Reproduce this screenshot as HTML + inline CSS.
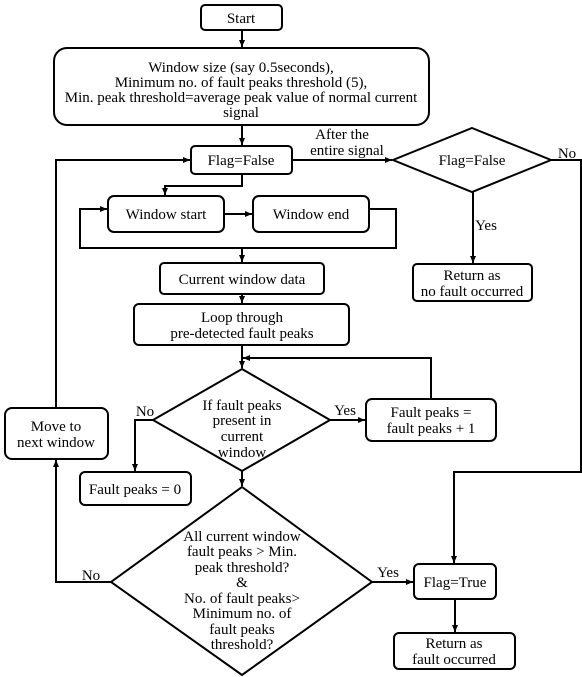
<!DOCTYPE html>
<html><head><meta charset="utf-8"><style>
html,body{margin:0;padding:0;background:#fff;}
svg{display:block;}
text{font-family:"Liberation Serif",serif;font-size:15px;fill:#000;text-anchor:middle;}
.b{fill:#fff;stroke:#000;stroke-width:2;}
.l{fill:none;stroke:#000;stroke-width:2;}
</style></head><body>
<svg width="582" height="677" viewBox="0 0 582 677">
<defs><marker id="a" markerWidth="8" markerHeight="8" refX="7" refY="4" orient="auto" markerUnits="userSpaceOnUse"><path d="M0,1 L7,4 L0,7 z" fill="#000"/></marker></defs>

<rect class="b" x="201" y="5" width="81" height="25" rx="4"/>
<text x="241" y="23">Start</text>
<path class="l" d="M242,30 V47" marker-end="url(#a)"/>

<rect class="b" x="54" y="48" width="375" height="77" rx="13"/>
<text x="241" y="72">Window size (say 0.5seconds),</text>
<text x="241" y="87">Minimum no. of fault peaks threshold (5),</text>
<text x="241" y="102">Min. peak threshold=average peak value of normal current</text>
<text x="241" y="117">signal</text>
<path class="l" d="M242,125 V145" marker-end="url(#a)"/>

<rect class="b" x="191" y="146" width="101" height="28" rx="4"/>
<text x="241" y="165">Flag=False</text>
<path class="l" d="M292,160 H392" marker-end="url(#a)"/>
<text x="342" y="139">After the</text>
<text x="347" y="155">entire signal</text>

<polygon class="b" points="472,128 551,160 472,192 393,160"/>
<text x="472" y="165">Flag=False</text>
<path class="l" d="M551,160 H581 V472 H454 V563" marker-end="url(#a)"/>
<text x="567" y="158">No</text>
<path class="l" d="M473,192 V263" marker-end="url(#a)"/>
<text x="486" y="230">Yes</text>
<rect class="b" x="413" y="264" width="119" height="37" rx="4"/>
<text x="472" y="280">Return as</text>
<text x="472" y="296">no fault occurred</text>

<path class="l" d="M242,174 V186 H165 V195" marker-end="url(#a)"/>
<rect class="b" x="108" y="196" width="116" height="36" rx="6"/>
<text x="166" y="219">Window start</text>
<rect class="b" x="253" y="196" width="116" height="36" rx="6"/>
<text x="311" y="219">Window end</text>
<path class="l" d="M224,214 H252" marker-end="url(#a)"/>
<path class="l" d="M369,209 H396 V248 H80 V209 H107" marker-end="url(#a)"/>
<path class="l" d="M242,248 V262" marker-end="url(#a)"/>

<rect class="b" x="160" y="263" width="164" height="31" rx="4"/>
<text x="242" y="284">Current window data</text>
<path class="l" d="M242,294 V303" marker-end="url(#a)"/>
<rect class="b" x="134" y="304" width="215" height="41" rx="5"/>
<text x="242" y="322">Loop through</text>
<text x="242" y="338">pre-detected fault peaks</text>
<path class="l" d="M242,345 V368" marker-end="url(#a)"/>
<path class="l" d="M431,399 V358 H243" marker-end="url(#a)"/>

<polygon class="b" points="242,369 330,420 242,471 153,420"/>
<text x="242" y="410">If fault peaks</text>
<text x="242" y="425">present in</text>
<text x="242" y="441">current</text>
<text x="242" y="457">window</text>
<path class="l" d="M330,420 H365" marker-end="url(#a)"/>
<text x="345" y="415">Yes</text>
<rect class="b" x="366" y="399" width="130" height="42" rx="6"/>
<text x="431" y="417">Fault peaks =</text>
<text x="431" y="433">fault peaks + 1</text>
<path class="l" d="M153,420 H135 V471" marker-end="url(#a)"/>
<text x="145" y="416">No</text>
<rect class="b" x="80" y="472" width="111" height="33" rx="5"/>
<text x="135" y="494">Fault peaks = 0</text>

<path class="l" d="M242,471 V486" marker-end="url(#a)"/>
<polygon class="b" points="242,487 372,582 242,675 111,582"/>
<text x="242" y="541">All current window</text>
<text x="242" y="556">fault peaks &gt; Min.</text>
<text x="242" y="572">peak threshold?</text>
<text x="242" y="587">&amp;</text>
<text x="242" y="603">No. of fault peaks&gt;</text>
<text x="242" y="618">Minimum no. of</text>
<text x="242" y="634">fault peaks</text>
<text x="242" y="649">threshold?</text>

<path class="l" d="M111,582 H56 V460" marker-end="url(#a)"/>
<text x="91" y="580">No</text>
<rect class="b" x="5" y="408" width="103" height="51" rx="7"/>
<text x="56" y="431">Move to</text>
<text x="56" y="447">next window</text>
<path class="l" d="M56,408 V160 H190" marker-end="url(#a)"/>

<path class="l" d="M372,582 H413" marker-end="url(#a)"/>
<text x="388" y="577">Yes</text>
<rect class="b" x="414" y="564" width="82" height="35" rx="5"/>
<text x="455" y="587">Flag=True</text>
<path class="l" d="M455,599 V632" marker-end="url(#a)"/>
<rect class="b" x="394" y="633" width="121" height="36" rx="5"/>
<text x="454" y="648">Return as</text>
<text x="454" y="664">fault occurred</text>
</svg>
</body></html>
